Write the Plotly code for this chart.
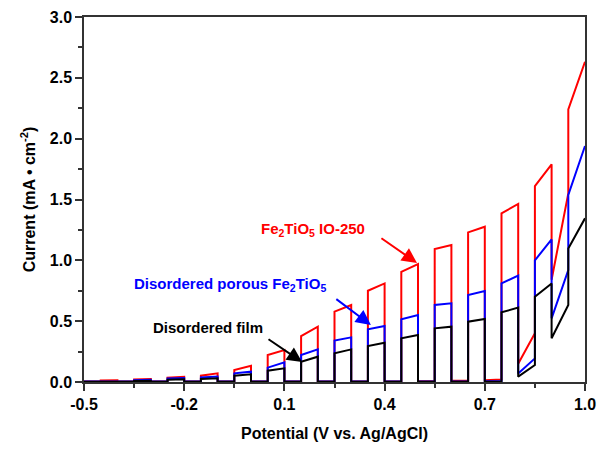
import plotly.graph_objects as go

# Light-chopping cycle potentials (V vs Ag/AgCl)
on_x = [-0.45, -0.35, -0.25, -0.15, -0.05, 0.05, 0.15, 0.25, 0.35, 0.45, 0.55, 0.65, 0.75, 0.85, 0.95]
off_x = [-0.40, -0.30, -0.20, -0.10, 0.00, 0.10, 0.20, 0.30, 0.40, 0.50, 0.60, 0.70, 0.80, 0.90, 1.00]
x_start = -0.5

# Fe2TiO5 IO-250 (red)
red_on_start = [0.012, 0.020, 0.035, 0.052, 0.099, 0.222, 0.378, 0.578, 0.750, 0.906, 1.093, 1.230, 1.386, 1.610, 2.240]
red_on_end = [0.015, 0.025, 0.042, 0.071, 0.134, 0.263, 0.455, 0.633, 0.810, 0.970, 1.126, 1.276, 1.463, 1.789, 2.632]
red_dark_start = [0.004, 0.005, 0.005, 0.005, 0.005, 0.005, 0.005, 0.005, 0.005, 0.005, 0.006, 0.010, 0.015, 0.150, 0.840]
red_dark_end = [0.004, 0.005, 0.005, 0.005, 0.005, 0.005, 0.005, 0.005, 0.006, 0.006, 0.008, 0.012, 0.020, 0.400, 1.550]

# Disordered porous Fe2TiO5 (blue)
blue_on_start = [0.008, 0.015, 0.028, 0.038, 0.071, 0.118, 0.222, 0.340, 0.433, 0.515, 0.633, 0.715, 0.811, 1.000, 1.537]
blue_on_end = [0.010, 0.018, 0.032, 0.045, 0.085, 0.162, 0.268, 0.367, 0.460, 0.550, 0.647, 0.748, 0.874, 1.172, 1.940]
blue_dark_start = [0.004, 0.004, 0.004, 0.004, 0.004, 0.004, 0.004, 0.004, 0.004, 0.004, 0.004, 0.005, 0.006, 0.070, 0.523]
blue_dark_end = [0.004, 0.004, 0.004, 0.004, 0.004, 0.004, 0.004, 0.004, 0.004, 0.004, 0.005, 0.006, 0.008, 0.194, 0.920]

# Disordered film (black)
black_on_start = [0.004, 0.008, 0.018, 0.025, 0.052, 0.093, 0.167, 0.236, 0.296, 0.359, 0.441, 0.496, 0.573, 0.700, 1.098]
black_on_end = [0.005, 0.010, 0.022, 0.030, 0.063, 0.112, 0.208, 0.268, 0.323, 0.386, 0.455, 0.518, 0.611, 0.810, 1.345]
black_dark_start = [0.002, 0.002, 0.002, 0.002, 0.002, 0.002, 0.002, 0.002, 0.002, 0.002, 0.002, 0.003, 0.003, 0.044, 0.359]
black_dark_end = [0.002, 0.002, 0.002, 0.002, 0.002, 0.002, 0.002, 0.002, 0.002, 0.002, 0.003, 0.003, 0.004, 0.140, 0.633]

x_ticks = [-0.5, -0.2, 0.1, 0.4, 0.7, 1.0]
y_ticks = [0.0, 0.5, 1.0, 1.5, 2.0, 2.5, 3.0]


def build(on_s, on_e, d_s, d_e):
    xs, ys = [], []
    for k in range(len(on_x)):
        xs.append(x_start if k == 0 else off_x[k - 1])
        ys.append(d_s[k])
        xs.append(on_x[k]); ys.append(d_e[k])
        xs.append(on_x[k]); ys.append(on_s[k])
        xs.append(off_x[k]); ys.append(on_e[k])
        if k < len(on_x) - 1:
            xs.append(off_x[k]); ys.append(d_s[k + 1])
    return xs, ys


fig = go.Figure()
for name, color, args in [
    ("Fe2TiO5 IO-250", "#ff0000", (red_on_start, red_on_end, red_dark_start, red_dark_end)),
    ("Disordered porous Fe2TiO5", "#0000ff", (blue_on_start, blue_on_end, blue_dark_start, blue_dark_end)),
    ("Disordered film", "#000000", (black_on_start, black_on_end, black_dark_start, black_dark_end)),
]:
    xs, ys = build(*args)
    fig.add_trace(go.Scatter(x=xs, y=ys, mode="lines", name=name,
                             line=dict(color=color, width=2), showlegend=False))

font_bold = "Liberation Sans, Arial, sans-serif"

annotations = [
    dict(x=0.024, y=1.25, text="<b>Fe<sub>2</sub>TiO<sub>5</sub> IO-250</b>", showarrow=False,
         xanchor="left", yanchor="middle", font=dict(color="#ff0000", size=15, family=font_bold)),
    dict(x=0.497, y=0.978, ax=0.386, ay=1.19, axref="x", ayref="y", text="", showarrow=True,
         arrowhead=2, arrowsize=1.5, arrowwidth=2, arrowcolor="#ff0000"),
    dict(x=-0.356, y=0.805, text="<b>Disordered porous Fe<sub>2</sub>TiO<sub>5</sub></b>", showarrow=False,
         xanchor="left", yanchor="middle", font=dict(color="#0000ff", size=15, family=font_bold)),
    dict(x=0.359, y=0.468, ax=0.251, ay=0.69, axref="x", ayref="y", text="", showarrow=True,
         arrowhead=2, arrowsize=1.5, arrowwidth=2, arrowcolor="#0000ff"),
    dict(x=-0.30, y=0.45, text="<b>Disordered film</b>", showarrow=False,
         xanchor="left", yanchor="middle", font=dict(color="#000000", size=15, family=font_bold)),
    dict(x=0.153, y=0.164, ax=0.048, ay=0.36, axref="x", ayref="y", text="", showarrow=True,
         arrowhead=2, arrowsize=1.5, arrowwidth=2, arrowcolor="#000000"),
]

fig.update_layout(
    width=599, height=449, autosize=False,
    margin=dict(l=84, r=14, t=17, b=67, autoexpand=False),
    paper_bgcolor="white", plot_bgcolor="white",
    font=dict(family=font_bold, color="#000000", size=15),
    annotations=annotations,
    xaxis=dict(range=[-0.5, 1.0], tickvals=x_ticks, ticktext=[f"<b>{v:.1f}</b>" for v in x_ticks],
               ticks="outside", ticklen=7, tickwidth=1.5, tickcolor="#333", automargin=False,
               minor=dict(dtick=0.15, tick0=-0.5, ticks="outside", ticklen=4, tickcolor="#333"),
               showline=True, linecolor="#333", linewidth=1.5, mirror=True, showgrid=False, zeroline=False,
               tickfont=dict(size=16, family=font_bold),
               title=dict(text="<b>Potential (V vs. Ag/AgCl)</b>", font=dict(size=16), standoff=16)),
    yaxis=dict(range=[0, 3.0], tickvals=y_ticks, ticktext=[f"<b>{v:.1f}</b>" for v in y_ticks],
               ticks="outside", ticklen=7, tickwidth=1.5, tickcolor="#333", automargin=False,
               minor=dict(dtick=0.25, tick0=0, ticks="outside", ticklen=4, tickcolor="#333"),
               showline=True, linecolor="#333", linewidth=1.5, mirror=True, showgrid=False, zeroline=False,
               tickfont=dict(size=16, family=font_bold),
               title=dict(text="<b>Current (mA • cm<sup>-2</sup>)</b>", font=dict(size=16), standoff=10)),
)

fig.write_html("out.html", config={"displayModeBar": False},
               post_script="document.body.style.margin='0';document.body.style.overflow='hidden';")
